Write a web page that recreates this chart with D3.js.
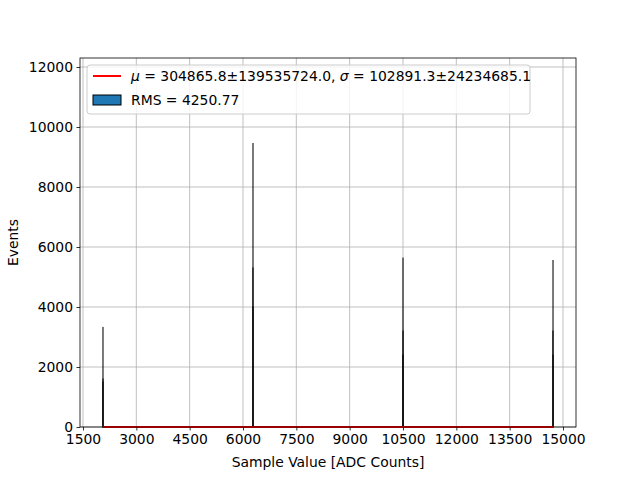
<!DOCTYPE html>
<html>
<head>
<meta charset="utf-8">
<script src="https://cdn.jsdelivr.net/npm/d3@7"></script>
<style>
	body { margin: 0; background: #fff; }
	text { font-family: "DejaVu Sans", sans-serif; }
</style>
</head>
<body>
<script>
//histogram spikes (bin width 1 ADC count)
var spikeCenters = [2062, 6281, 10500, 14719];
var spikeCounts = [
	[1500, 3320, 1600],
	[5300, 9450, 4000],
	[2400, 5630, 3200],
	[3200, 5550, 2400]
];
var binWidth = 1;

//fit curve (flat at zero on this scale)
var fitX = [2060, 14721],
	fitY = [0, 0];

var xTicks = [1500, 3000, 4500, 6000, 7500, 9000, 10500, 12000, 13500, 15000],
	yTicks = [0, 2000, 4000, 6000, 8000, 10000, 12000];

var legendFit = ["\u03BC", " = 304865.8\u00B1139535724.0, ", "\u03C3", " = 102891.3\u00B124234685.1"],
	legendRms = "RMS = 4250.77";

var width = 640, height = 480,
	margin = {top: 58, right: 64, bottom: 53, left: 80},
	fontSize = "13.9px";

//reformat the bins
var bins = [];
spikeCenters.forEach(function(c, j){
	spikeCounts[j].forEach(function(n, i){
		var x0 = c + (i - 1) * binWidth;
		bins.push({"x0": x0, "x1": x0 + binWidth, "y": n});
	});
});

var svg = d3.select("body").append("svg")
	.attr("width", width)
	.attr("height", height);

var xScale = d3.scaleLinear()
	.domain([1416, 15366])
	.range([margin.left, width - margin.right]);
var yScale = d3.scaleLinear()
	.domain([0, 12300])
	.range([height - margin.bottom, margin.top]);

var x0 = margin.left, x1 = width - margin.right,
	y0 = height - margin.bottom, y1 = margin.top;

//grid
svg.append("g").selectAll("line")
	.data(xTicks).enter()
		.append("line")
		.attr("x1", function(d) {return xScale(d);})
		.attr("x2", function(d) {return xScale(d);})
		.attr("y1", y0).attr("y2", y1)
		.style("stroke", "#b0b0b0")
		.style("stroke-width", 0.8);
svg.append("g").selectAll("line")
	.data(yTicks).enter()
		.append("line")
		.attr("y1", function(d) {return yScale(d);})
		.attr("y2", function(d) {return yScale(d);})
		.attr("x1", x0).attr("x2", x1)
		.style("stroke", "#b0b0b0")
		.style("stroke-width", 0.8);

//histogram bars
svg.append("g").selectAll("rect")
	.data(bins).enter()
		.append("rect")
		.attr("x", function(d) {return xScale(d.x0);})
		.attr("width", function(d) {return xScale(d.x1) - xScale(d.x0);})
		.attr("y", function(d) {return yScale(d.y);})
		.attr("height", function(d) {return yScale(0) - yScale(d.y);})
		.style("fill", "#1f77b4")
		.style("stroke", "#000")
		.style("stroke-width", 1);

//fit line
var fitLine = d3.line()
	.x(function(d, i) {return xScale(fitX[i]);})
	.y(function(d) {return yScale(d);});
svg.append("path")
	.datum(fitY)
	.attr("d", fitLine)
	.style("fill", "none")
	.style("stroke", "red")
	.style("stroke-width", 2);

//axes
var gX = svg.append("g")
	.attr("transform", "translate(0," + y0 + ")")
	.call(d3.axisBottom(xScale).tickValues(xTicks).tickFormat(d3.format("d")).tickSize(3.5).tickPadding(3.5));
var gY = svg.append("g")
	.attr("transform", "translate(" + x0 + ",0)")
	.call(d3.axisLeft(yScale).tickValues(yTicks).tickFormat(d3.format("d")).tickSize(3.5).tickPadding(3.5));
[gX, gY].forEach(function(g){
	g.select(".domain").remove();
	g.selectAll("text").style("font-size", fontSize).style("fill", "#000")
		.style("font-family", "DejaVu Sans");
	g.selectAll("line").style("stroke", "#000").style("stroke-width", 0.8);
});

//frame
svg.append("rect")
	.attr("x", x0).attr("y", y1)
	.attr("width", x1 - x0).attr("height", y0 - y1)
	.style("fill", "none")
	.style("stroke", "#000")
	.style("stroke-width", 0.8);

//axes labels
svg.append("text")
	.attr("x", (x0 + x1) / 2)
	.attr("y", 467)
	.style("text-anchor", "middle")
	.style("font-size", fontSize)
	.text("Sample Value [ADC Counts]");
svg.append("text")
	.attr("transform", "translate(18," + ((y0 + y1) / 2) + ") rotate(-90)")
	.style("text-anchor", "middle")
	.style("font-size", fontSize)
	.text("Events");

//legend
var leg = svg.append("g");
leg.append("rect")
	.attr("x", 87).attr("y", 65)
	.attr("width", 443).attr("height", 49)
	.attr("rx", 3)
	.style("fill", "#fff").style("fill-opacity", 0.8)
	.style("stroke", "#cccccc")
	.style("stroke-width", 1);
leg.append("line")
	.attr("x1", 93).attr("x2", 121)
	.attr("y1", 76).attr("y2", 76)
	.style("stroke", "red").style("stroke-width", 2);
leg.append("rect")
	.attr("x", 93).attr("y", 95)
	.attr("width", 28).attr("height", 10)
	.style("fill", "#1f77b4").style("stroke", "#000").style("stroke-width", 1);
var t1 = leg.append("text")
	.attr("x", 131).attr("y", 81)
	.style("font-size", fontSize);
legendFit.forEach(function(s, i){
	t1.append("tspan")
		.style("font-style", (i % 2 == 0) ? "italic" : "normal")
		.text(s);
});
leg.append("text")
	.attr("x", 131).attr("y", 105)
	.style("font-size", fontSize)
	.text(legendRms);
</script>
</body>
</html>
